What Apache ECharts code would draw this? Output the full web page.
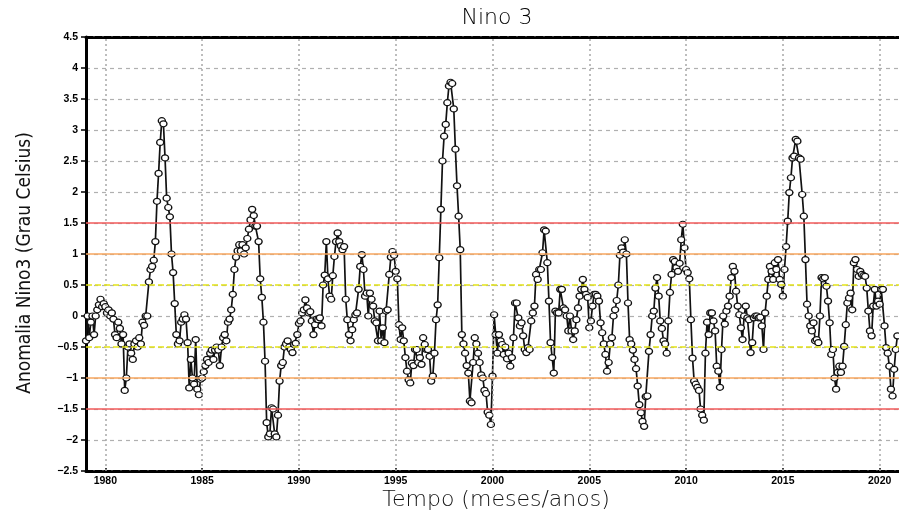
<!DOCTYPE html>
<html>
<head>
<meta charset="utf-8">
<script src="https://cdn.jsdelivr.net/npm/echarts@6/dist/echarts.min.js"></script>
<style>
  html, body { margin: 0; padding: 0; background: #fff; }
  #chart { width: 899px; height: 515px; }
</style>
</head>
<body>
<div id="chart"></div>
<script>
// Monthly Nino 3 SST anomaly (°C), January 1979 onwards, one row per year
const startYear = 1979;
const anomaly = [
  /*1979*/ -0.40, 0.00, -0.35, -0.10, 0.00, -0.30, 0.00, 0.10, 0.18, 0.27, 0.15, 0.20,
  /*1980*/ 0.15, 0.05, 0.10, 0.00, 0.05, -0.05, -0.30, -0.35, -0.10, -0.20, -0.45, -0.30,
  /*1981*/ -1.20, -1.00, -0.50, -0.45, -0.60, -0.70, -0.45, -0.40, -0.50, -0.35, -0.45, -0.10,
  /*1982*/ -0.15, 0.00, 0.00, 0.55, 0.75, 0.80, 0.90, 1.20, 1.85, 2.30, 2.80, 3.15,
  /*1983*/ 3.10, 2.55, 1.90, 1.75, 1.60, 1.00, 0.70, 0.20, -0.30, -0.45, -0.40, -0.10,
  /*1984*/ -0.05, 0.02, -0.05, -0.43, -1.16, -0.70, -1.00, -1.10, -0.38, -1.18, -1.27, -1.02,
  /*1985*/ -1.00, -0.90, -0.80, -0.70, -0.75, -0.60, -0.55, -0.70, -0.55, -0.50, -0.55, -0.80,
  /*1986*/ -0.50, -0.35, -0.30, -0.40, -0.10, -0.05, 0.10, 0.35, 0.75, 0.95, 1.05, 1.15,
  /*1987*/ 1.05, 1.15, 1.00, 1.10, 1.25, 1.40, 1.55, 1.72, 1.62, 1.45, 1.45, 1.20,
  /*1988*/ 0.60, 0.30, -0.10, -0.73, -1.72, -1.95, -1.90, -1.48, -1.50, -1.90, -1.95, -1.60,
  /*1989*/ -1.05, -0.80, -0.75, -0.50, -0.45, -0.40, -0.50, -0.54, -0.59, -0.46, -0.44, -0.30,
  /*1990*/ -0.12, -0.08, 0.05, 0.10, 0.26, 0.13, 0.05, 0.07, -0.08, -0.30, -0.14, -0.05,
  /*1991*/ -0.06, -0.03, -0.16, 0.50, 0.66, 1.20, 0.60, 0.32, 0.27, 0.65, 0.96, 1.20,
  /*1992*/ 1.34, 1.20, 1.13, 1.07, 1.12, 0.27, -0.06, -0.30, -0.40, -0.22, -0.06, 0.02,
  /*1993*/ 0.05, 0.43, 0.80, 0.99, 0.75, 0.32, 0.37, 0.00, 0.37, 0.27, 0.16, -0.08,
  /*1994*/ -0.11, -0.40, 0.08, -0.40, -0.19, -0.43, 0.08, 0.10, 0.67, 0.95, 1.04, 0.98,
  /*1995*/ 0.72, 0.60, -0.14, -0.38, -0.19, -0.40, -0.67, -0.89, -1.03, -1.08, -0.76, -0.80,
  /*1996*/ -0.54, -0.54, -0.75, -0.67, -0.78, -0.35, -0.46, -0.54, -0.54, -0.65, -1.05, -0.97,
  /*1997*/ -0.60, -0.06, 0.18, 0.94, 1.72, 2.50, 2.90, 3.09, 3.44, 3.71, 3.77, 3.75,
  /*1998*/ 3.34, 2.69, 2.10, 1.61, 1.07, -0.30, -0.45, -0.60, -0.80, -0.92, -1.37, -1.40,
  /*1999*/ -0.75, -0.35, -0.45, -0.60, -0.75, -0.95, -1.00, -1.20, -1.25, -1.55, -1.60, -1.75,
  /*2000*/ -0.97, 0.02, -0.30, -0.60, -0.30, -0.40, -0.46, -0.62, -0.50, -0.69, -0.60, -0.81,
  /*2001*/ -0.67, -0.35, 0.21, 0.21, -0.03, -0.16, -0.11, -0.32, -0.54, -0.59, -0.51, -0.54,
  /*2002*/ -0.08, 0.05, 0.16, 0.67, 0.59, 0.75, 0.75, 1.02, 1.39, 1.37, 0.86, 0.24,
  /*2003*/ -0.43, -0.67, -0.92, 0.08, 0.05, 0.05, 0.43, 0.43, 0.13, 0.10, 0.00, -0.24,
  /*2004*/ 0.00, -0.24, -0.38, -0.24, -0.06, 0.13, 0.32, 0.43, 0.59, 0.43, 0.35, 0.30,
  /*2005*/ -0.19, -0.08, 0.16, 0.35, 0.35, 0.32, 0.24, -0.11, -0.27, -0.45, -0.62, -0.89,
  /*2006*/ -0.75, -0.45, -0.35, 0.00, 0.10, 0.25, 0.50, 0.98, 1.10, 1.03, 1.23, 1.00,
  /*2007*/ 0.21, -0.38, -0.45, -0.55, -0.70, -0.85, -1.13, -1.43, -1.56, -1.70, -1.78, -1.30,
  /*2008*/ -1.29, -0.57, -0.30, 0.00, 0.08, 0.45, 0.62, 0.32, -0.08, -0.20, -0.40, -0.45,
  /*2009*/ -0.60, -0.08, 0.38, 0.67, 0.91, 0.88, 0.78, 0.72, 0.85, 1.23, 1.48, 1.10,
  /*2010*/ 0.75, 0.70, 0.60, -0.06, -0.68, -1.05, -1.10, -1.15, -1.20, -1.50, -1.60, -1.68,
  /*2011*/ -0.60, -0.10, -0.30, 0.05, 0.05, -0.08, -0.24, -0.81, -0.89, -1.15, -0.54, 0.00,
  /*2012*/ -0.13, 0.08, 0.16, 0.32, 0.62, 0.80, 0.72, 0.40, 0.16, 0.02, -0.19, -0.38,
  /*2013*/ 0.00, 0.16, -0.03, -0.06, -0.59, -0.43, -0.03, 0.00, 0.00, -0.03, -0.02, -0.16,
  /*2014*/ -0.54, 0.05, 0.32, 0.59, 0.80, 0.72, 0.59, 0.86, 0.75, 0.91, 0.59, 0.51,
  /*2015*/ 0.32, 0.75, 1.12, 1.53, 1.99, 2.23, 2.55, 2.58, 2.85, 2.82, 2.55, 2.53,
  /*2016*/ 1.96, 1.61, 0.91, 0.19, 0.00, -0.16, -0.24, -0.11, -0.40, -0.38, -0.43, 0.00,
  /*2017*/ 0.62, 0.60, 0.62, 0.48, 0.24, -0.11, -0.62, -0.54, -1.00, -1.18, -0.91, -0.81,
  /*2018*/ -0.91, -0.81, -0.49, -0.14, 0.21, 0.29, 0.37, 0.10, 0.86, 0.91, 0.75, 0.64,
  /*2019*/ 0.72, 0.67, 0.65, 0.64, 0.45, 0.08, -0.24, -0.32, 0.16, 0.43, 0.16, 0.24,
  /*2020*/ 0.19, 0.43, 0.43, -0.16, -0.51, -0.60, -0.81, -1.18, -1.29, -0.86, -0.54, -0.32
];

// Tick labels and reference thresholds
const yearTicks = [1980, 1985, 1990, 1995, 2000, 2005, 2010, 2015, 2020];
const thresholds = [
  { value: 1.5, color: '#f25a5a', type: 'solid' },
  { value: -1.5, color: '#f25a5a', type: 'solid' },
  { value: 1.0, color: '#f7a65e', type: 'solid' },
  { value: -1.0, color: '#f7a65e', type: 'solid' },
  { value: 0.5, color: '#e4e418', type: [6, 3] },
  { value: -0.5, color: '#e4e418', type: [6, 3] }
];

const points = anomaly.map((v, i) => [startYear + i / 12, v]);

const tickFont = { fontFamily: 'Liberation Sans, Arial, sans-serif', fontWeight: 'bold', fontSize: 10.5, color: '#000' };
const fmtNum = v => String(v).replace('-', '\u2212');

const chart = echarts.init(document.getElementById('chart'), null, { renderer: 'canvas' });
chart.setOption({
  animation: false,
  backgroundColor: '#fff',
  grid: { left: 86, right: 0, top: 37, bottom: 44, containLabel: false },
  xAxis: [{
    type: 'value', min: 1979, max: 2021,
    axisLine: { show: true, onZero: false, lineStyle: { color: '#000', width: 3, type: [7, 2] } },
    axisTick: { show: true, inside: true, length: 3, customValues: yearTicks, lineStyle: { color: '#000', width: 1.5 } },
    axisLabel: { show: true, customValues: yearTicks, margin: 5, ...tickFont, formatter: v => String(v) },
    splitLine: { show: false }
  }, {
    type: 'value', min: 1979, max: 2021, position: 'top',
    axisLine: { show: true, onZero: false, lineStyle: { color: '#000', width: 3, type: [7, 2] } },
    axisTick: { show: false }, axisLabel: { show: false }, splitLine: { show: false }
  }],
  yAxis: {
    type: 'value', min: -2.5, max: 4.5, interval: 0.5,
    axisLine: { show: true, onZero: false, lineStyle: { color: '#000', width: 3 } },
    axisTick: { show: true, length: 5, lineStyle: { color: '#000', width: 1.5 } },
    axisLabel: { margin: 8, ...tickFont, formatter: fmtNum },
    splitLine: { show: true, lineStyle: { color: '#b0b0b0', width: 1.2, type: [4, 4] } }
  },
  series: [{
    // reference lines: year grid and anomaly thresholds
    type: 'line', data: [], silent: true, z: 1,
    markLine: {
      silent: true, symbol: 'none', animation: false,
      label: { show: false },
      data: yearTicks.map(y => ({ xAxis: y, lineStyle: { color: '#a8a8a8', width: 1.5, type: [2, 3] } }))
        .concat(thresholds.map(t => ({ yAxis: t.value, lineStyle: { color: t.color, width: 1.5, type: t.type } })))
    }
  }, {
    name: 'Nino 3', type: 'line', data: points, z: 3,
    lineStyle: { color: '#111', width: 1.7 },
    symbol: 'circle', symbolSize: [7, 6],
    itemStyle: { color: '#fff', borderColor: '#111', borderWidth: 1.3 },
    emphasis: { disabled: true }
  }],
  graphic: [
    { type: 'text', style: { text: 'Nino 3', x: 497, y: 18, align: 'center', verticalAlign: 'middle',
      font: '300 22px "DejaVu Sans", sans-serif', fill: '#000' } },
    { type: 'text', style: { text: 'Tempo (meses/anos)', x: 496, y: 500, align: 'center', verticalAlign: 'middle',
      font: '300 22px "DejaVu Sans", sans-serif', fill: '#111' } },
    { type: 'text', x: 25, y: 263, rotation: Math.PI / 2,
      style: { text: 'Anomalia Nino3 (Grau Celsius)', x: 0, y: 0, align: 'center', verticalAlign: 'middle',
      font: '19px "Liberation Sans Narrow", "DejaVu Sans Condensed", sans-serif', fill: '#111' } }
  ]
});
</script>
</body>
</html>
